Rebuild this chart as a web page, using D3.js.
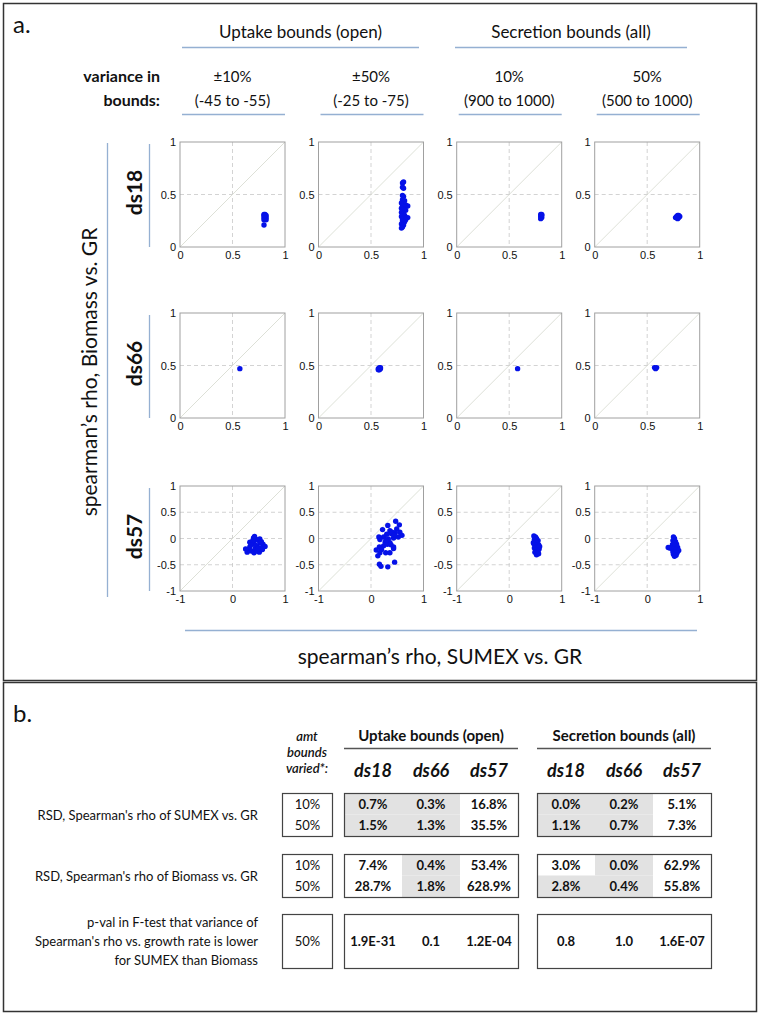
<!DOCTYPE html>
<html>
<head>
<meta charset="utf-8">
<script src="https://cdn.jsdelivr.net/npm/d3@7"></script>
<style>
  body { margin: 0; background: #fff; }
  text { fill: #111; }
</style>
</head>
<body>
<div id="chart"></div>
<script>
// ---- data ----
const groups = ['Uptake bounds (open)', 'Secretion bounds (all)']
const variances = ['±10%', '±50%', '10%', '50%']
const varRanges = ['(-45 to -55)', '(-25 to -75)', '(900 to 1000)', '(500 to 1000)']
const datasets = ['ds18', 'ds66', 'ds57']

const ticksPos = [0, 0.5, 1]
const ticksFullY = [-1, -0.5, 0, 0.5, 1]
const ticksFullX = [-1, 0, 1]

// points: [sumex rho, biomass rho]
const ds18_up10 = [[0.80,0.31],[0.81,0.31],[0.82,0.30],[0.80,0.30],[0.81,0.29],[0.82,0.28],[0.80,0.28],[0.81,0.27],[0.82,0.26],[0.80,0.26],[0.81,0.30],[0.80,0.21]]
const ds18_up50 = [[0.80,0.61],[0.81,0.62],[0.80,0.57],[0.81,0.56],[0.80,0.49],[0.81,0.48],[0.80,0.45],[0.82,0.44],[0.79,0.42],[0.81,0.41],[0.83,0.40],[0.80,0.39],[0.85,0.39],[0.82,0.38],[0.79,0.37],[0.81,0.36],[0.80,0.35],[0.83,0.35],[0.79,0.33],[0.81,0.32],[0.80,0.31],[0.82,0.30],[0.79,0.29],[0.81,0.28],[0.85,0.28],[0.80,0.27],[0.83,0.26],[0.80,0.25],[0.82,0.24],[0.79,0.22],[0.81,0.21],[0.80,0.19],[0.79,0.18]]
const ds18_sec10 = [[0.80,0.31],[0.81,0.30],[0.80,0.29],[0.81,0.28],[0.80,0.27],[0.81,0.31]]
const ds18_sec50 = [[0.77,0.28],[0.78,0.29],[0.79,0.30],[0.80,0.30],[0.81,0.29],[0.80,0.28],[0.79,0.27],[0.78,0.28]]

const ds66_up10 = [[0.57,0.47]]
const ds66_up50 = [[0.57,0.47],[0.58,0.48],[0.59,0.47],[0.58,0.46],[0.57,0.46],[0.59,0.48]]
const ds66_sec10 = [[0.58,0.47]]
const ds66_sec50 = [[0.57,0.48],[0.58,0.47],[0.59,0.48]]

const ds57_up10 = [[0.40,0.01],[0.45,-0.02],[0.49,-0.03],[0.52,-0.01],[0.58,-0.11],[0.30,-0.21],[0.33,-0.16],[0.41,-0.10],[0.47,-0.15],[0.54,-0.18],[0.36,-0.24],[0.28,-0.26],[0.41,-0.27],[0.51,-0.26],[0.57,-0.21],[0.62,-0.15],[0.52,-0.08],[0.43,-0.20],[0.46,-0.24],[0.33,-0.07],[0.25,-0.20],[0.38,-0.05],[0.44,-0.13],[0.49,-0.19],[0.35,-0.12],[0.55,-0.06],[0.42,0.04]]
const ds57_up50 = [[0.47,0.33],[0.54,0.26],[0.32,0.25],[0.22,0.17],[0.36,0.15],[0.49,0.18],[0.46,0.11],[0.55,0.12],[0.59,0.06],[0.39,0.09],[0.30,0.08],[0.24,0.03],[0.17,-0.02],[0.15,0.03],[0.33,-0.01],[0.43,0.01],[0.52,0.03],[0.27,-0.07],[0.36,-0.08],[0.24,-0.14],[0.16,-0.16],[0.31,-0.11],[0.43,-0.16],[0.10,-0.22],[0.20,-0.21],[0.17,-0.27],[0.28,-0.27],[0.36,-0.27],[0.43,-0.19],[0.13,-0.33],[0.16,-0.49],[0.19,-0.53],[0.32,-0.54],[0.45,-0.45],[0.40,0.12],[0.44,0.06],[0.29,-0.03],[0.38,-0.12]]
const ds57_sec10 = [[0.47,0.05],[0.50,0.03],[0.52,0.00],[0.48,-0.02],[0.55,-0.04],[0.50,-0.06],[0.53,-0.09],[0.47,-0.10],[0.56,-0.12],[0.50,-0.14],[0.54,-0.16],[0.48,-0.18],[0.57,-0.20],[0.51,-0.22],[0.55,-0.24],[0.49,-0.26],[0.53,-0.28],[0.52,-0.31],[0.56,-0.29],[0.46,-0.08],[0.58,-0.15]]
const ds57_sec50 = [[0.50,0.03],[0.52,0.00],[0.49,-0.04],[0.54,-0.06],[0.51,-0.09],[0.56,-0.11],[0.48,-0.12],[0.53,-0.14],[0.40,-0.17],[0.43,-0.18],[0.47,-0.19],[0.58,-0.17],[0.51,-0.20],[0.55,-0.22],[0.60,-0.23],[0.49,-0.25],[0.53,-0.27],[0.57,-0.27],[0.50,-0.30],[0.55,-0.32],[0.52,-0.34]]

const panelData = [
  [ds18_up10, ds18_up50, ds18_sec10, ds18_sec50],
  [ds66_up10, ds66_up50, ds66_sec10, ds66_sec50],
  [ds57_up10, ds57_up50, ds57_sec10, ds57_sec50]
]

// table b
const tableDs = ['ds18', 'ds66', 'ds57']
const amtLabels = ['10%', '50%']
const rsdSumex10 = ['0.7%', '0.3%', '16.8%', '0.0%', '0.2%', '5.1%']
const rsdSumex50 = ['1.5%', '1.3%', '35.5%', '1.1%', '0.7%', '7.3%']
const rsdBiomass10 = ['7.4%', '0.4%', '53.4%', '3.0%', '0.0%', '62.9%']
const rsdBiomass50 = ['28.7%', '1.8%', '628.9%', '2.8%', '0.4%', '55.8%']
const pvals50 = ['1.9E-31', '0.1', '1.2E-04', '0.8', '1.0', '1.6E-07']
// grey cells
const shadeSumex10 = [1, 1, 0, 1, 1, 0]
const shadeSumex50 = [1, 1, 0, 1, 1, 0]
const shadeBiomass10 = [0, 1, 0, 0, 1, 0]
const shadeBiomass50 = [0, 1, 0, 1, 1, 0]

// ---- drawing ----
const W = 764, H = 1016
const svg = d3.select('#chart').append('svg').attr('width', W).attr('height', H)
const sans = 'Lato, "Open Sans", sans-serif'
const arial = '"Liberation Sans", Arial, sans-serif'
const blueLine = '#95b0d2'

// frames
svg.append('rect').attr('x', 3.5).attr('y', 3.5).attr('width', 753).attr('height', 677)
  .attr('fill', 'none').attr('stroke', '#333').attr('stroke-width', 1.5)
svg.append('rect').attr('x', 3.5).attr('y', 682.5).attr('width', 753).attr('height', 329)
  .attr('fill', 'none').attr('stroke', '#333').attr('stroke-width', 1.5)

svg.append('text').attr('x', 13).attr('y', 33).attr('font-family', sans).attr('font-size', 24).text('a.')

// column headers
const colX = [180, 318.5, 456.7, 594.7]
const size = 105
const rowY = [142, 313, 486]

const groupSpan = [[182, 419], [455, 687]]
groups.forEach((g, i) => {
  const [a, b] = groupSpan[i]
  svg.append('text').attr('x', (a + b) / 2).attr('y', 38).attr('text-anchor', 'middle')
    .attr('font-family', sans).attr('font-size', 17).text(g)
  svg.append('line').attr('x1', a).attr('x2', b).attr('y1', 47.5).attr('y2', 47.5)
    .attr('stroke', blueLine).attr('stroke-width', 1.3)
})

svg.append('text').attr('x', 160).attr('y', 82).attr('text-anchor', 'end').attr('font-family', sans)
  .attr('font-weight', 'bold').attr('font-size', 16).text('variance in')
svg.append('text').attr('x', 160).attr('y', 106).attr('text-anchor', 'end').attr('font-family', sans)
  .attr('font-weight', 'bold').attr('font-size', 16).text('bounds:')

variances.forEach((v, i) => {
  const cx = colX[i] + size / 2
  svg.append('text').attr('x', cx).attr('y', 82).attr('text-anchor', 'middle')
    .attr('font-family', sans).attr('font-size', 15).text(v)
  svg.append('text').attr('x', cx).attr('y', 106).attr('text-anchor', 'middle')
    .attr('font-family', sans).attr('font-size', 15).text(varRanges[i])
  svg.append('line').attr('x1', colX[i] + 2).attr('x2', colX[i] + size).attr('y1', 114.5).attr('y2', 114.5)
    .attr('stroke', blueLine).attr('stroke-width', 1.3)
})

// row labels
datasets.forEach((d, r) => {
  const cy = rowY[r] + size / 2
  svg.append('text').attr('transform', `translate(142,${cy - 2}) rotate(-90)`).attr('text-anchor', 'middle')
    .attr('font-family', sans).attr('font-weight', 'bold').attr('font-size', 21).text(d)
  svg.append('line').attr('x1', 149.5).attr('x2', 149.5).attr('y1', rowY[r] + 2).attr('y2', rowY[r] + size)
    .attr('stroke', blueLine).attr('stroke-width', 1.3)
})

svg.append('text').attr('transform', 'translate(97,372) rotate(-90)').attr('text-anchor', 'middle')
  .attr('font-family', sans).attr('font-size', 21).text('spearman\u2019s rho, Biomass vs. GR')
svg.append('line').attr('x1', 107.5).attr('x2', 107.5).attr('y1', 143).attr('y2', 597)
  .attr('stroke', blueLine).attr('stroke-width', 1.3)

svg.append('line').attr('x1', 185).attr('x2', 697).attr('y1', 630.5).attr('y2', 630.5)
  .attr('stroke', blueLine).attr('stroke-width', 1.3)
svg.append('text').attr('x', 440).attr('y', 664).attr('text-anchor', 'middle')
  .attr('font-family', sans).attr('font-size', 21).text('spearman\u2019s rho, SUMEX vs. GR')

// scatter panels
function drawPanel(r, c, pts) {
  const full = r === 2
  const dom = full ? [-1, 1] : [0, 1]
  const x = d3.scaleLinear().domain(dom).range([0, size])
  const y = d3.scaleLinear().domain(dom).range([size, 0])
  const xt = full ? ticksFullX : ticksPos
  const yt = full ? ticksFullY : ticksPos
  const g = svg.append('g').attr('transform', `translate(${colX[c]},${rowY[r]})`)

  g.append('rect').attr('width', size).attr('height', size).attr('fill', '#fff')

  // dashed grid
  g.selectAll('.gx').data(xt.slice(1, -1)).join('line')
    .attr('x1', d => x(d)).attr('x2', d => x(d)).attr('y1', 0).attr('y2', size)
    .attr('stroke', '#c8c8c8').attr('stroke-dasharray', '4,3').attr('stroke-width', 0.8)
  g.selectAll('.gy').data(yt.slice(1, -1)).join('line')
    .attr('y1', d => y(d)).attr('y2', d => y(d)).attr('x1', 0).attr('x2', size)
    .attr('stroke', '#c8c8c8').attr('stroke-dasharray', '4,3').attr('stroke-width', 0.8)

  // identity line
  g.append('line').attr('x1', x(dom[0])).attr('y1', y(dom[0])).attr('x2', x(dom[1])).attr('y2', y(dom[1]))
    .attr('stroke', '#d9ddd2').attr('stroke-width', 0.9)

  g.append('rect').attr('width', size).attr('height', size).attr('fill', 'none')
    .attr('stroke', '#a0a0a0').attr('stroke-width', 1)

  const fmt = d => String(d)
  const ax = g.append('g').call(d3.axisLeft(y).tickValues(yt).tickSize(0).tickPadding(4).tickFormat(fmt))
  const bx = g.append('g').attr('transform', `translate(0,${size})`)
    .call(d3.axisBottom(x).tickValues(xt).tickSize(0).tickPadding(4).tickFormat(fmt))
  ;[ax, bx].forEach(a => {
    a.select('.domain').remove()
    a.selectAll('text').attr('font-family', arial).attr('font-size', 11).attr('fill', '#222')
  })

  g.append('g').attr('fill', '#0511e8').selectAll('circle').data(pts).join('circle')
    .attr('cx', d => x(d[0])).attr('cy', d => y(d[1])).attr('r', 2.7)
}

panelData.forEach((row, r) => row.forEach((pts, c) => drawPanel(r, c, pts)))

// ---- part b table ----
svg.append('text').attr('x', 13).attr('y', 722).attr('font-family', sans).attr('font-size', 24).text('b.')

const amtBox = [282, 332]
const grpX = [344, 537]
const grpW = 174
const cell = d3.scaleBand().domain(d3.range(3)).range([0, grpW])

const amtHead = ['amt', 'bounds', 'varied*:']
amtHead.forEach((t, k) => {
  svg.append('text').attr('x', 307).attr('y', 741 + k * 16).attr('text-anchor', 'middle').attr('font-family', sans)
    .attr('font-style', 'italic').attr('font-weight', 600).attr('font-size', 13).attr('fill', '#222').text(t)
})

groups.forEach((g, i) => {
  svg.append('text').attr('x', grpX[i] + grpW / 2).attr('y', 741).attr('text-anchor', 'middle')
    .attr('font-family', sans).attr('font-weight', 'bold').attr('font-size', 15).text(g)
  svg.append('line').attr('x1', grpX[i]).attr('x2', grpX[i] + grpW).attr('y1', 748.5).attr('y2', 748.5)
    .attr('stroke', '#555').attr('stroke-width', 1.4)
  tableDs.forEach((d, j) => {
    svg.append('text').attr('x', grpX[i] + cell(j) + cell.bandwidth() / 2).attr('y', 777)
      .attr('text-anchor', 'middle').attr('font-family', sans).attr('font-weight', 'bold')
      .attr('font-style', 'italic').attr('font-size', 18).text(d)
  })
})

function drawBlock(top, h, label, rowsVals, rowsShade, amts) {
  const n = rowsVals.length
  const rh = h / n
  // label lines
  label.forEach((t, k) => {
    svg.append('text').attr('x', 258).attr('y', top + h / 2 + (k - (label.length - 1) / 2) * 19 + 5)
      .attr('text-anchor', 'end').attr('font-family', sans).attr('font-size', 13).text(t)
  })
  // amt box
  svg.append('rect').attr('x', amtBox[0] + 0.5).attr('y', top + 0.5).attr('width', amtBox[1] - amtBox[0]).attr('height', h)
    .attr('fill', '#fff').attr('stroke', '#444').attr('stroke-width', 1.2)
  amts.forEach((a, k) => {
    svg.append('text').attr('x', (amtBox[0] + amtBox[1]) / 2 + 0.5).attr('y', top + rh * k + rh / 2 + 5)
      .attr('text-anchor', 'middle').attr('font-family', sans).attr('font-size', 13).text(a)
  })
  grpX.forEach((gx, i) => {
    rowsVals.forEach((vals, k) => {
      vals.slice(i * 3, i * 3 + 3).forEach((v, j) => {
        if (rowsShade[k] && rowsShade[k][i * 3 + j]) {
          svg.append('rect').attr('x', gx + cell(j)).attr('y', top + rh * k).attr('width', cell.bandwidth())
            .attr('height', rh).attr('fill', '#e2e2e2')
        }
        svg.append('text').attr('x', gx + cell(j) + cell.bandwidth() / 2).attr('y', top + rh * k + rh / 2 + 5)
          .attr('text-anchor', 'middle').attr('font-family', sans).attr('font-weight', 'bold')
          .attr('font-size', 13).text(v)
      })
    })
    svg.append('rect').attr('x', gx + 0.5).attr('y', top + 0.5).attr('width', grpW).attr('height', h)
      .attr('fill', 'none').attr('stroke', '#444').attr('stroke-width', 1.2)
  })
}

drawBlock(793, 43, ['RSD, Spearman\'s rho of SUMEX vs. GR'], [rsdSumex10, rsdSumex50], [shadeSumex10, shadeSumex50], amtLabels)
drawBlock(854, 43, ['RSD, Spearman\'s rho of Biomass vs. GR'], [rsdBiomass10, rsdBiomass50], [shadeBiomass10, shadeBiomass50], amtLabels)
drawBlock(914, 54, ['p-val in F-test that variance of', 'Spearman\'s rho vs. growth rate is lower', 'for SUMEX than Biomass'], [pvals50], [null], ['50%'])
</script>
</body>
</html>
